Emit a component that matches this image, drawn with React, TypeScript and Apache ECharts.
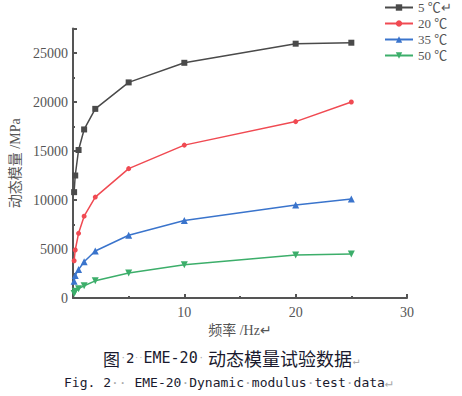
import React, { useEffect, useRef } from "react";
import * as echarts from "echarts";

const frequencies = [0.1, 0.2, 0.5, 1, 2, 5, 10, 20, 25];
const seriesNames = ["5 ℃↵", "20 ℃", "35 ℃", "50 ℃"];
const mod5 = [10800, 12500, 15100, 17200, 19300, 22000, 24000, 25950, 26050];
const mod20 = [3800, 4900, 6600, 8350, 10300, 13200, 15600, 18000, 20000];
const mod35 = [1700, 2300, 2900, 3700, 4800, 6400, 7900, 9500, 10100];
const mod50 = [450, 700, 950, 1250, 1750, 2550, 3400, 4400, 4500];
const xTicks = [0, 10, 20, 30];
const yTicks = [0, 5000, 10000, 15000, 20000, 25000];

const colors = ["#4a4a4a", "#f04a52", "#3a74cc", "#3cae6a"];
const symbols = ["rect", "circle", "triangle", "path://M0,0 L10,0 L5,9 Z"];
const sizes = [6, 5, 7, 7];

const serif = "'Liberation Serif', 'Noto Sans CJK SC', serif";
const ink = "#1a1a2e";
const grey = "#aaaaaa";
const cjk = "'Noto Sans CJK SC'";
const mono = "'DejaVu Sans Mono'";

export default function App() {
  const ref = useRef<HTMLDivElement>(null);
  useEffect(() => {
    const chart = echarts.init(ref.current!, undefined, { renderer: "svg" });
    const all = [mod5, mod20, mod35, mod50];
    const seg = (text: string, x: number, y: number, font: string, size: number, fill: string) => ({
      type: "text",
      x,
      y,
      style: { text, fontFamily: font, fontSize: size, fill, verticalAlign: "middle", align: "left" },
    });
    chart.setOption({
      animation: false,
      grid: { left: 73, right: 55, top: 28.5, bottom: 98 },
      legend: {
        orient: "vertical",
        left: 379,
        top: -4,
        itemWidth: 28,
        itemHeight: 8,
        itemGap: 3,
        textStyle: { fontFamily: serif, fontSize: 13, color: "#555" },
        data: seriesNames,
      },
      xAxis: {
        type: "value",
        min: 0,
        max: 30,
        interval: 10,
        name: "频率 /Hz↵",
        nameLocation: "middle",
        nameGap: 17,
        nameTextStyle: { fontFamily: serif, fontSize: 14, color: "#555" },
        axisLine: { lineStyle: { color: "#555", width: 2 } },
        axisTick: { inside: true, length: 4, lineStyle: { color: "#555", width: 2 } },
        minorTick: { show: true, splitNumber: 2, length: 2, lineStyle: { color: "#555", width: 2 } },
        splitLine: { show: false },
        axisLabel: {
          fontFamily: serif,
          fontSize: 14,
          color: "#555",
          margin: 7,
          formatter: (v: number) => (xTicks.includes(v) && v !== 0 ? String(v) : ""),
        },
      },
      yAxis: {
        type: "value",
        min: 0,
        max: 27500,
        interval: 5000,
        name: "动态模量 /MPa",
        nameLocation: "middle",
        nameGap: 49,
        nameTextStyle: { fontFamily: serif, fontSize: 14, color: "#555" },
        axisLine: { show: true, lineStyle: { color: "#555", width: 2 } },
        axisTick: { show: true, inside: true, length: 4, lineStyle: { color: "#555", width: 2 } },
        minorTick: { show: true, splitNumber: 2, length: 2, lineStyle: { color: "#555", width: 2 } },
        splitLine: { show: false },
        axisLabel: {
          fontFamily: serif,
          fontSize: 14,
          color: "#555",
          margin: 5,
          formatter: (v: number) => (yTicks.includes(v) ? String(v) : ""),
        },
      },
      series: seriesNames.map((n, i) => ({
        name: n,
        type: "line",
        data: frequencies.map((f, j) => [f, all[i][j]]),
        symbol: symbols[i],
        symbolSize: sizes[i],
        showSymbol: true,
        color: colors[i],
        lineStyle: { color: colors[i], width: 1.5 },
        itemStyle: { color: colors[i] },
      })),
      graphic: [
        seg("图", 103, 358, cjk, 17, ink),
        seg("·", 120.5, 358, mono, 9, grey),
        seg("2", 126, 358, mono, 14, ink),
        seg("··", 134.6, 358, mono, 7, grey),
        seg("EME-20", 143.5, 358, mono, 15, ink),
        seg("·", 198.5, 358, mono, 9, grey),
        seg("动态模量试验数据", 208, 358, cjk, 18, ink),
        seg("↵", 353, 360, mono, 11, grey),
        {
          type: "text",
          x: 64,
          y: 382,
          style: {
            text: "{m|Fig. 2}{d|··}{m| EME-20}{d|·}{m|Dynamic}{d|·}{m|modulus}{d|·}{m|test}{d|·}{m|data}{d|↵}",
            verticalAlign: "middle",
            rich: {
              m: { fontFamily: mono, fontSize: 13, fill: ink },
              d: { fontFamily: mono, fontSize: 13, fill: grey },
            },
          },
        },
      ],
    });
    return () => chart.dispose();
  }, []);
  return (
    <div
      ref={ref}
      style={{ position: "fixed", left: 0, top: 0, width: 462, height: 396, background: "#fff" }}
    />
  );
}
